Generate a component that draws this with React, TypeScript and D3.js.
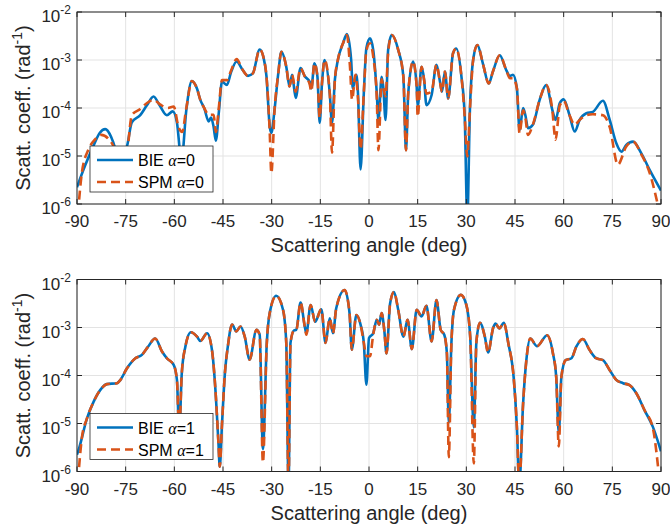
import * as d3 from "d3";

// angles in deg, values are log10 of the scattering coefficient (rad^-1)
const X_TICKS = [-90, -75, -60, -45, -30, -15, 0, 15, 30, 45, 60, 75, 90];
const Y_EXPS = [-2, -3, -4, -5, -6];

const bie0: [number, number][] = [
  [-90, -5.65], [-87.5, -5.2], [-85, -4.8], [-83, -4.52], [-81.3, -4.44], [-79.5, -4.6],
  [-78.2, -4.85], [-76.8, -5.25], [-75.5, -4.95], [-74.6, -4.8], [-73.1, -4.3], [-70.5, -4.15],
  [-68.5, -3.95], [-66.4, -3.76], [-64.5, -3.95], [-62.3, -4.15], [-60.5, -4.07], [-59.2, -4.3],
  [-57.8, -5.1], [-56.3, -4.04], [-54.6, -3.44], [-53, -3.6], [-52, -3.83], [-50.8, -4.0],
  [-49.4, -4.28], [-48.7, -4.2], [-47.9, -4.39], [-47.2, -4.68], [-46.3, -4.1], [-45.3, -3.45],
  [-43.8, -3.52], [-42.5, -3.25], [-40.8, -3.03], [-39, -3.2], [-37.3, -3.33], [-35.8, -3.28],
  [-33.7, -2.78], [-32.5, -2.95], [-31.6, -3.34], [-30.6, -4.38], [-30.1, -4.52], [-29.1, -4.03],
  [-28, -3.3], [-27, -2.83], [-25.5, -3.14], [-24.5, -3.55], [-23.7, -3.31], [-22.6, -3.79],
  [-21.1, -3.17], [-19.8, -3.34], [-18.3, -3.45], [-17.8, -3.59], [-16.8, -3.07], [-15.9, -3.34],
  [-15.2, -4.31], [-14.5, -3.5], [-13.7, -3.0], [-12.1, -3.69], [-11.4, -4.31], [-10.5, -3.4],
  [-9.6, -3.0], [-8, -2.65], [-6.8, -2.46], [-5.5, -3.0], [-5.0, -3.59], [-3.9, -3.31],
  [-3.4, -3.69], [-2.6, -5.28], [-1.6, -3.69], [-0.8, -2.75], [0.3, -2.55], [1.3, -2.79],
  [2.4, -3.69], [2.9, -4.25], [3.9, -3.35], [4.4, -3.56], [5.1, -4.25], [5.9, -2.79],
  [7.0, -2.48], [9.0, -2.79], [10.6, -3.35], [11.4, -4.88], [12.1, -3.69], [13.6, -3.03],
  [14.7, -3.56], [15.0, -3.97], [16.2, -3.14], [17.0, -3.42], [17.7, -3.94], [19.3, -3.73],
  [20.8, -3.1], [21.8, -3.42], [22.5, -3.66], [23.4, -3.24], [24.4, -3.8], [25.9, -2.86],
  [26.9, -2.76], [28.5, -3.35], [29.5, -4.18], [30.3, -6.3], [31.1, -4.04], [32.1, -3.0],
  [33.4, -2.69], [35.2, -3.1], [36.9, -3.49], [38.2, -3.24], [40.3, -2.9], [42.3, -3.21],
  [43.4, -3.33], [44.4, -3.31], [45.6, -3.6], [46.4, -4.46], [47.5, -4.0], [48.2, -4.15],
  [49.0, -4.42], [50.5, -4.35], [52.6, -3.83], [54.6, -3.52], [56.5, -4.04], [57.5, -4.25],
  [58.8, -3.9], [60.0, -3.82], [61.8, -4.15], [63.4, -4.49], [64.9, -4.25], [67.0, -4.11],
  [69.0, -4.08], [72.1, -3.85], [74.2, -4.25], [76.2, -4.73], [77.8, -4.91], [79.3, -4.77],
  [81.4, -4.7], [83.9, -4.94], [86.5, -5.29], [90, -5.72],
];

const spm0: [number, number][] = [
  [-89.7, -6.2], [-88.5, -5.35], [-86.5, -4.87], [-84.5, -4.66], [-82.5, -4.56], [-80.5, -4.63],
  [-78.2, -4.9], [-76.5, -5.4], [-74.5, -4.9], [-73.1, -4.15], [-70.5, -4.02], [-68.5, -3.9],
  [-66.4, -3.83], [-64.3, -3.93], [-62, -4.0], [-60.2, -3.97], [-58.7, -4.4], [-57.6, -4.5],
  [-56.3, -4.0], [-54.6, -3.44], [-53, -3.6], [-52, -3.83], [-50.8, -4.0], [-49.4, -4.14],
  [-47.9, -4.14], [-47.2, -4.5], [-46.3, -4.0], [-45.3, -3.42], [-43.8, -3.42], [-42.5, -3.22],
  [-40.8, -2.98], [-39, -3.2], [-37.3, -3.33], [-35.8, -3.28], [-33.7, -2.78], [-32.5, -2.95],
  [-31.6, -3.34], [-30.6, -4.5], [-30.1, -5.36], [-29.1, -4.03], [-28, -3.3], [-27, -2.83],
  [-25.5, -3.14], [-24.5, -3.55], [-23.7, -3.31], [-22.6, -3.66], [-21.1, -3.17], [-19.8, -3.34],
  [-18.3, -3.5], [-17.8, -3.65], [-16.8, -3.07], [-15.9, -3.34], [-15.2, -4.2], [-14.5, -3.5],
  [-13.7, -3.0], [-12.1, -3.69], [-11.4, -4.93], [-10.5, -3.4], [-9.6, -3.0], [-8, -2.65],
  [-6.8, -2.48], [-5.9, -3.1], [-5.2, -3.83], [-4.2, -3.31], [-3.4, -3.8], [-2.6, -4.86],
  [-1.6, -3.69], [-0.8, -2.8], [0.3, -2.65], [1.3, -2.93], [2.4, -3.8], [2.9, -4.88],
  [3.9, -3.4], [4.4, -3.56], [5.1, -3.76], [5.9, -2.85], [7.0, -2.48], [9.0, -2.79],
  [10.6, -3.35], [11.4, -4.88], [12.1, -3.69], [13.6, -3.03], [14.7, -3.56], [15.0, -4.18],
  [16.2, -3.14], [17.0, -3.42], [17.7, -3.7], [19.3, -3.65], [20.8, -3.1], [21.8, -3.42],
  [22.5, -3.66], [23.4, -3.24], [24.4, -3.8], [25.9, -2.86], [26.9, -2.76], [28.5, -3.35],
  [29.5, -4.18], [30.3, -5.01], [31.1, -4.04], [32.1, -3.0], [33.4, -2.69], [35.2, -3.1],
  [36.9, -3.49], [38.2, -3.24], [40.3, -2.9], [42.3, -3.21], [43.4, -3.38], [44.4, -3.38],
  [45.6, -3.6], [46.4, -4.53], [47.5, -4.05], [48.2, -4.2], [49.0, -4.56], [50.5, -4.35],
  [52.6, -3.83], [54.6, -3.52], [56.5, -4.04], [57.5, -4.66], [58.8, -3.95], [60.0, -3.85],
  [61.8, -4.15], [63.4, -4.35], [64.9, -4.25], [67.0, -4.15], [69.0, -4.13], [72.1, -4.15],
  [74.2, -4.4], [76.7, -5.18], [79.3, -4.8], [81.4, -4.7], [83.9, -4.96], [86.5, -5.35],
  [89.3, -6.1],
];

const bie1: [number, number][] = [
  [-90, -5.65], [-89.5, -5.55], [-86.9, -4.89], [-84.9, -4.55], [-82.8, -4.3], [-80.8, -4.18],
  [-77.7, -4.16], [-76.6, -4.09], [-74.6, -3.85], [-72.0, -3.64], [-70.0, -3.57], [-68.2, -3.41],
  [-65.9, -3.23], [-63.8, -3.5], [-62.3, -3.64], [-60.2, -3.78], [-59.2, -4.09], [-58.5, -5.2],
  [-57.7, -3.95], [-56.6, -3.4], [-54.9, -3.1], [-53.0, -3.19], [-52.0, -3.28], [-49.9, -3.12],
  [-48.4, -3.47], [-47.4, -4.23], [-46.4, -5.41], [-46.0, -5.9], [-45.3, -5.0], [-44.4, -3.94],
  [-43.5, -3.39], [-42.2, -2.94], [-40.9, -3.08], [-39.6, -2.98], [-38.3, -3.19], [-36.8, -3.67],
  [-34.7, -3.05], [-33.7, -3.15], [-32.7, -5.53], [-31.5, -3.32], [-30.6, -2.7], [-28.6, -2.34],
  [-26.5, -2.63], [-25.5, -3.32], [-24.8, -6.3], [-24.2, -3.32], [-23.1, -3.06], [-22.4, -3.05],
  [-21.1, -2.48], [-19.8, -2.98], [-19.3, -3.12], [-18.0, -2.53], [-16.6, -2.88], [-14.7, -2.62],
  [-13.4, -3.32], [-12.1, -2.81], [-11.1, -3.12], [-10.1, -2.6], [-7.5, -2.22], [-6.0, -2.7],
  [-5.3, -3.46], [-3.9, -2.74], [-2.6, -2.94], [-1.6, -3.32], [-0.8, -4.19], [0.0, -3.22],
  [1.3, -3.12], [2.4, -2.84], [3.1, -2.94], [3.9, -2.7], [4.7, -3.05], [5.4, -3.54],
  [6.5, -2.5], [7.7, -2.26], [9.0, -2.63], [10.6, -3.19], [11.9, -2.84], [13.2, -3.45],
  [14.7, -2.63], [16.2, -2.77], [17.7, -2.55], [19.3, -3.29], [20.8, -2.43], [22.1, -3.05],
  [23.2, -3.15], [24.0, -3.53], [24.6, -4.98], [25.4, -3.32], [26.2, -2.63], [28.3, -2.32],
  [30.0, -2.53], [31.2, -3.2], [32.3, -5.08], [33.1, -3.3], [34.2, -2.9], [35.7, -3.19],
  [36.7, -3.52], [38.3, -3.0], [39.0, -2.92], [40.2, -3.02], [41.5, -2.9], [43.0, -3.35],
  [44.6, -4.05], [45.6, -5.1], [46.3, -6.3], [47.5, -4.58], [48.5, -3.68], [49.7, -3.23],
  [51.8, -3.39], [54.9, -3.16], [56.7, -3.54], [57.7, -4.03], [58.5, -5.2], [59.3, -4.03],
  [60.6, -3.68], [62.4, -3.64], [63.9, -3.4], [65.9, -3.24], [68.0, -3.47], [70.0, -3.64],
  [72.1, -3.68], [74.2, -3.89], [76.2, -4.09], [78.3, -4.16], [80.3, -4.2], [82.4, -4.37],
  [84.9, -4.72], [87.5, -5.07], [90, -5.58],
];

const spm1: [number, number][] = [
  [-89.7, -6.2], [-88.5, -5.3], [-86.9, -4.89], [-84.9, -4.55], [-82.8, -4.3], [-80.8, -4.18],
  [-77.7, -4.16], [-76.6, -4.09], [-74.6, -3.85], [-72.0, -3.64], [-70.0, -3.57], [-68.2, -3.41],
  [-65.9, -3.23], [-63.8, -3.5], [-62.3, -3.64], [-60.2, -3.78], [-59.2, -4.09], [-58.5, -5.2],
  [-57.7, -3.95], [-56.6, -3.4], [-54.9, -3.1], [-53.0, -3.19], [-52.0, -3.28], [-49.9, -3.12],
  [-48.4, -3.47], [-47.4, -4.23], [-46.4, -5.41], [-46.0, -5.9], [-45.3, -5.0], [-44.4, -3.94],
  [-43.5, -3.39], [-42.2, -2.94], [-40.9, -3.08], [-39.6, -2.98], [-38.3, -3.19], [-36.8, -3.67],
  [-34.7, -3.05], [-33.7, -3.15], [-32.7, -5.81], [-31.5, -3.32], [-30.6, -2.7], [-28.6, -2.34],
  [-26.5, -2.63], [-25.5, -3.32], [-24.8, -6.3], [-24.2, -3.32], [-23.1, -3.06], [-22.4, -3.05],
  [-21.1, -2.48], [-19.8, -2.98], [-19.3, -3.15], [-18.0, -2.53], [-16.6, -2.88], [-14.7, -2.62],
  [-13.4, -3.32], [-12.1, -2.81], [-11.1, -3.12], [-10.1, -2.6], [-7.5, -2.22], [-6.0, -2.7],
  [-5.3, -3.46], [-3.9, -2.74], [-2.6, -2.94], [-1.6, -3.32], [-0.8, -3.6], [0.3, -3.6],
  [1.3, -3.15], [2.4, -2.84], [3.1, -2.94], [3.9, -2.7], [4.7, -3.05], [5.4, -3.54],
  [6.5, -2.5], [7.7, -2.26], [9.0, -2.63], [10.6, -3.19], [11.9, -2.84], [13.2, -3.45],
  [14.7, -2.63], [16.2, -2.77], [17.7, -2.55], [19.3, -3.29], [20.8, -2.43], [22.1, -3.05],
  [23.2, -3.15], [24.0, -3.53], [24.6, -5.7], [25.4, -3.32], [26.2, -2.63], [28.3, -2.32],
  [30.0, -2.53], [31.2, -3.2], [32.3, -5.83], [33.1, -3.3], [34.2, -2.9], [35.7, -3.19],
  [36.7, -3.52], [38.3, -3.0], [39.0, -2.92], [40.2, -3.02], [41.5, -2.9], [43.0, -3.35],
  [44.6, -4.05], [45.6, -5.1], [46.3, -6.3], [47.5, -4.58], [48.5, -3.68], [49.7, -3.23],
  [51.8, -3.39], [54.9, -3.16], [56.7, -3.54], [57.7, -4.03], [58.5, -5.48], [59.3, -4.03],
  [60.6, -3.68], [62.4, -3.64], [63.9, -3.4], [65.9, -3.24], [68.0, -3.47], [70.0, -3.64],
  [72.1, -3.68], [74.2, -3.89], [76.2, -4.09], [78.3, -4.16], [80.3, -4.2], [82.4, -4.37],
  [84.9, -4.72], [87.5, -5.1], [89.4, -6.1],
];

const W = 670, H = 529;
const LEFT = 77, RIGHT = 661;
const BLUE = "#0072BD", ORANGE = "#D95319", AXIS = "#262626";
const FONT = "'Liberation Sans', Arial, Helvetica, sans-serif";

function Panel({ id, top, bottom, bie, spm, alpha }: {
  id: string; top: number; bottom: number;
  bie: [number, number][]; spm: [number, number][]; alpha: string;
}) {
  const x = d3.scaleLinear().domain([-90, 90]).range([LEFT, RIGHT]);
  const y = d3.scaleLog().domain([1e-6, 1e-2]).range([bottom, top]);
  const line = d3.line<[number, number]>()
    .x(d => x(d[0]))
    .y(d => y(Math.pow(10, d[1])))
    .curve(d3.curveMonotoneX);

  const lgX = 90, lgY = top + 134, lgW = 123, lgH = 46;

  return (
    <g>
      <defs>
        <clipPath id={id}>
          <rect x={LEFT} y={top} width={RIGHT - LEFT} height={bottom - top} />
        </clipPath>
      </defs>
      <rect x={LEFT} y={top} width={RIGHT - LEFT} height={bottom - top} fill="#fff" />

      {/* grid */}
      {X_TICKS.map(t => (
        <line key={"gx" + t} x1={x(t)} x2={x(t)} y1={top} y2={bottom} stroke="#e3e3e3" strokeWidth={1} />
      ))}
      {Y_EXPS.map(e => (
        <line key={"gy" + e} x1={LEFT} x2={RIGHT} y1={y(Math.pow(10, e))} y2={y(Math.pow(10, e))} stroke="#e3e3e3" strokeWidth={1} />
      ))}

      {/* curves */}
      <g clipPath={`url(#${id})`}>
        <path d={line(bie) || ""} fill="none" stroke={BLUE} strokeWidth={2.6} strokeLinejoin="round" />
        <path d={line(spm) || ""} fill="none" stroke={ORANGE} strokeWidth={2.6} strokeDasharray="9,5" />
      </g>

      {/* box + ticks */}
      <rect x={LEFT} y={top} width={RIGHT - LEFT} height={bottom - top} fill="none" stroke={AXIS} strokeWidth={1} />
      {X_TICKS.map(t => (
        <g key={"tx" + t}>
          <line x1={x(t)} x2={x(t)} y1={bottom} y2={bottom - 5} stroke={AXIS} />
          <line x1={x(t)} x2={x(t)} y1={top} y2={top + 5} stroke={AXIS} />
          <text x={x(t)} y={bottom + 23} textAnchor="middle" fontSize={17} fill={AXIS} fontFamily={FONT}>{t}</text>
        </g>
      ))}
      {Y_EXPS.map(e => {
        const yy = y(Math.pow(10, e));
        return (
          <g key={"ty" + e}>
            <line x1={LEFT} x2={LEFT + 5} y1={yy} y2={yy} stroke={AXIS} />
            <line x1={RIGHT} x2={RIGHT - 5} y1={yy} y2={yy} stroke={AXIS} />
            <text x={71} y={yy + 10} textAnchor="end" fontSize={17} fill={AXIS} fontFamily={FONT}>
              10<tspan dy={-8} fontSize={12}>{e}</tspan>
            </text>
          </g>
        );
      })}

      {/* labels */}
      <text x={(LEFT + RIGHT) / 2} y={bottom + 48} textAnchor="middle" fontSize={20} fill={AXIS} fontFamily={FONT}>
        Scattering angle (deg)
      </text>
      <text transform={`translate(30,${(top + bottom) / 2}) rotate(-90)`} textAnchor="middle" fontSize={20} fill={AXIS} fontFamily={FONT}>
        Scatt. coeff. (rad<tspan dy={-8} fontSize={14}>-1</tspan><tspan dy={8}>)</tspan>
      </text>

      {/* legend */}
      <rect x={lgX} y={lgY} width={lgW} height={lgH} fill="#fff" stroke={AXIS} strokeWidth={0.8} />
      <line x1={97} x2={133} y1={lgY + 14} y2={lgY + 14} stroke={BLUE} strokeWidth={2.6} />
      <line x1={97} x2={133} y1={lgY + 36} y2={lgY + 36} stroke={ORANGE} strokeWidth={2.6} strokeDasharray="9,5" />
      <text x={138} y={lgY + 20} fontSize={16} fill="#000" fontFamily={FONT}>
        BIE <tspan fontStyle="italic" fontFamily="'Liberation Serif', serif">α</tspan>={alpha}
      </text>
      <text x={138} y={lgY + 42} fontSize={16} fill="#000" fontFamily={FONT}>
        SPM <tspan fontStyle="italic" fontFamily="'Liberation Serif', serif">α</tspan>={alpha}
      </text>
    </g>
  );
}

export default function App() {
  return (
    <svg width={W} height={H} style={{ position: "absolute", left: 0, top: 0, background: "#fff" }}>
      <rect width={W} height={H} fill="#fff" />
      <Panel id="clipTop" top={12} bottom={204} bie={bie0} spm={spm0} alpha="0" />
      <Panel id="clipBot" top={279.5} bottom={471.5} bie={bie1} spm={spm1} alpha="1" />
    </svg>
  );
}
